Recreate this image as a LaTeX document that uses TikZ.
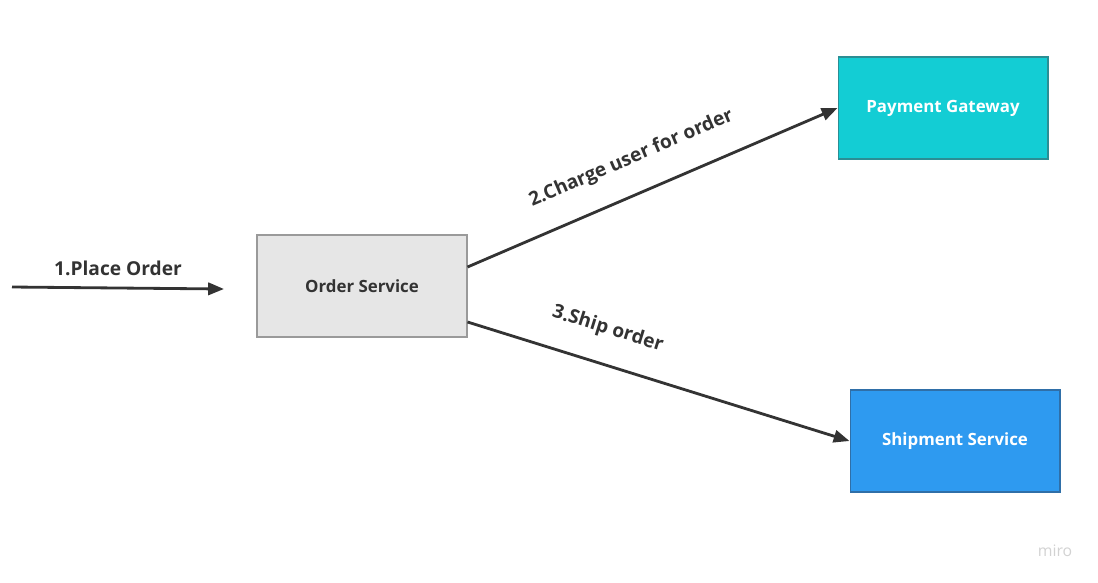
\documentclass[tikz,border=0pt]{standalone}
\usepackage{fontspec}
\setmainfont{Open Sans}
\usetikzlibrary{arrows.meta,positioning,calc}
\definecolor{ordergray}{HTML}{E6E6E6}
\definecolor{orderline}{HTML}{9A9A9A}
\definecolor{paycyan}{HTML}{13CDD4}
\definecolor{payline}{HTML}{2B8E94}
\definecolor{shipblue}{HTML}{2E9AF0}
\definecolor{shipline}{HTML}{2F6FA8}
\definecolor{arrowgray}{HTML}{333333}
\tikzset{
  service/.style={draw,line width=0.6pt,minimum width=4.2cm,minimum height=2.04cm,font=\fontsize{9.6}{11}\selectfont\bfseries},
  flow/.style={draw=arrowgray,line width=1.6pt,-{Triangle[length=9pt,width=7pt]}},
  flowlabel/.style={font=\fontsize{10.9}{12}\selectfont\bfseries,text=arrowgray}
}
\begin{document}
\begin{tikzpicture}[x=0.02cm,y=-0.02cm]
\useasboundingbox (0,0) rectangle (1098,582);
%Kaesten
\node[service,fill=ordergray,draw=orderline,text=arrowgray] (order) at (362,286) {Order Service};
\node[service,fill=paycyan,draw=payline,text=white] (payment) at (943,108) {Payment Gateway};
\node[service,fill=shipblue,draw=shipline,text=white] (shipment) at (955,441) {Shipment Service};
%Eingang
\coordinate (client) at (12,287);
\coordinate (entry) at (224,289);
\draw[flow] (client) -- node[flowlabel,above=3pt] {1.Place Order} (entry);
%Aufrufe
\draw[flow] ([yshift=0.38cm]order.east) -- node[flowlabel,pos=0.48,sloped,above=0.36cm] {2.Charge user for order} (payment.west);
\draw[flow] ([yshift=-0.72cm]order.east) -- node[flowlabel,pos=0.34,sloped,above=0.36cm] {3.Ship order} (shipment.west);
\node[font=\fontsize{9}{10}\selectfont,text=gray!35] (miro) at (1055,551) {miro};
\end{tikzpicture}
\end{document}
